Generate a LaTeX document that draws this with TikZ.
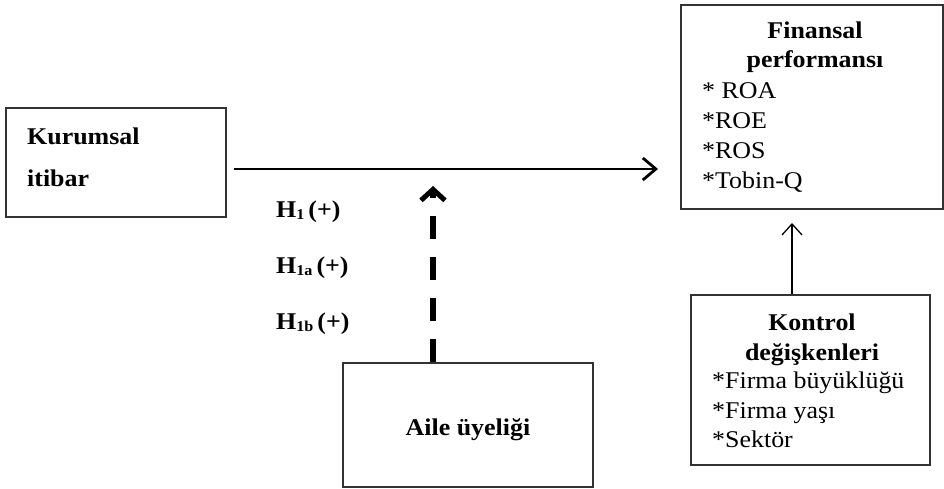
\documentclass[tikz,border=0pt]{standalone}
\usepackage{fontspec}
\setmainfont{Liberation Serif}[FakeStretch=1.08]
\usetikzlibrary{arrows.meta}
\begin{document}
\begin{tikzpicture}[x=1pt,y=-1pt]
\tikzset{
  box/.style={draw=black!80, line width=1.6pt, inner sep=0pt},
  txt/.style={inner sep=0pt, anchor=base west, font=\fontsize{24}{28}\selectfont},
  ctxt/.style={inner sep=0pt, anchor=base, font=\fontsize{24}{28}\selectfont\bfseries},
  btxt/.style={txt, font=\fontsize{24}{28}\selectfont\bfseries},
  mainarrow/.style={line width=2.8pt, -{Straight Barb[length=13pt,width=22pt,line width=2.8pt]}},
  modarrow/.style={line width=5.5pt, dash pattern=on 23pt off 18pt, -{Straight Barb[length=11pt,width=24pt,line width=5pt]}},
  ctrlarrow/.style={line width=1.3pt, -{Straight Barb[length=11pt,width=20pt,line width=1.3pt]}}
}
\useasboundingbox (0,0) rectangle (944,489);
% boxes
\node[box, minimum width=220pt, minimum height=109pt] (kur) at (116,162.5) {};
\node[box, minimum width=262pt, minimum height=204pt] (fin) at (812,107) {};
\node[box, minimum width=239pt, minimum height=170pt] (kon) at (810.5,380) {};
\node[box, minimum width=250pt, minimum height=124pt] (aile) at (468,425) {};
% texts
\node[btxt] (t1) at (27,145) {Kurumsal};
\node[btxt] (t2) at (27,186) {itibar};
\node[ctxt] (t3) at (815,39) {Finansal};
\node[ctxt] (t4) at (815,68) {performansı};
\node[txt] (t5) at (702,99) {* ROA};
\node[txt] (t6) at (702,129) {*ROE};
\node[txt] (t7) at (702,159) {*ROS};
\node[txt] (t8) at (702,189) {*Tobin-Q};
\node[ctxt] (t9) at (812,330) {Kontrol};
\node[ctxt] (t10) at (812,360) {değişkenleri};
\node[txt] (t11) at (712,388) {*Firma büyüklüğü};
\node[txt] (t12) at (712,418) {*Firma yaşı};
\node[txt] (t13) at (712,447) {*Sektör};
\node[ctxt] (t14) at (468,435) {Aile üyeliği};
\node[btxt] (h1) at (276,217) {H\raisebox{-2pt}{\fontsize{15}{15}\selectfont 1}\,(+)};
\node[btxt] (h2) at (276,273) {H\raisebox{-2pt}{\fontsize{15}{15}\selectfont 1a}\,(+)};
\node[btxt] (h3) at (276,329) {H\raisebox{-2pt}{\fontsize{15}{15}\selectfont 1b}\,(+)};
% connectors
\coordinate (hs) at (234,169);
\coordinate (he) at (658,169);
\draw[mainarrow] (hs) -- (he);
\coordinate (mt) at (433,186);
\draw[modarrow] (aile.north -| mt) -- (mt);
\coordinate (cs) at (792,295);
\coordinate (ce) at (792,223);
\draw[ctrlarrow] (kon.north -| cs) -- (ce);
\end{tikzpicture}
\end{document}
